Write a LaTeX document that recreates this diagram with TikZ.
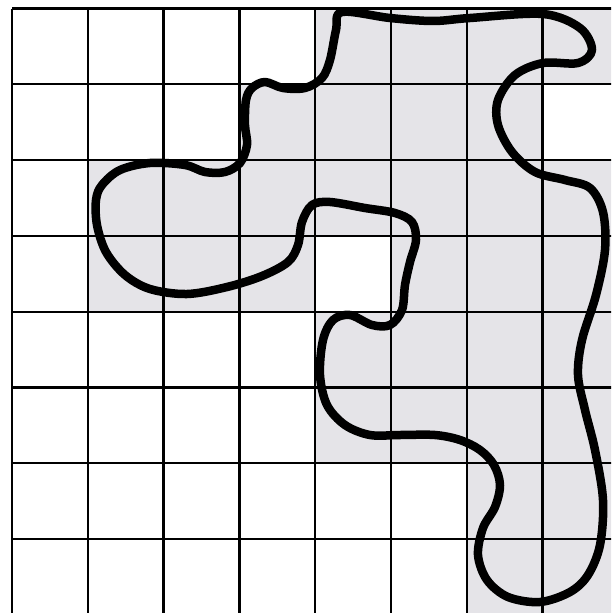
\documentclass[tikz,border=0pt]{standalone}
\definecolor{cellgray}{RGB}{229,228,232}
\tikzset{
  gridline/.style={line width=2.3pt, black},
  blob/.style={line width=8.5pt, black, line join=round},
  shade/.style={fill=cellgray}
}
\begin{document}
\begin{tikzpicture}[x=1pt,y=-1pt]
\useasboundingbox (0,0) rectangle (611,613);
\fill[white] (0,0) rectangle (611,613);
\begin{scope}
\clip (0,0) rectangle (611,613);
\def\cs{75.8}
\def\ox{12}
\def\oy{8.5}
% shaded cells: row/col
\foreach \r/\c in {0/4,0/5,0/6,0/7,
                   1/3,1/4,1/5,1/6,
                   2/1,2/2,2/3,2/4,2/5,2/6,2/7,
                   3/1,3/2,3/3,3/5,3/6,3/7,
                   4/4,4/5,4/6,4/7,
                   5/4,5/5,5/6,5/7,
                   6/6,6/7,
                   7/6,7/7}
  \path[shade] ({\ox+\c*\cs},{\oy+\r*\cs}) rectangle ({\ox+(\c+1)*\cs},{\oy+(\r+1)*\cs});
% grid
\foreach \k in {0,...,8} {
  \draw[gridline] ({\ox+\k*\cs},\oy) -- ({\ox+\k*\cs},{\oy+8*\cs});
  \draw[gridline] (\ox,{\oy+\k*\cs}) -- ({\ox+8*\cs},{\oy+\k*\cs});
}
% curve
\draw[blob] plot[smooth cycle, tension=0.55] coordinates {
(342,12) (390,18) (433,21) (470,18) (543,14) (580,28) (592,50) (578,63)
(543,63) (515,75) (498,100) (498,125) (512,152) (535,172) (565,180)
(590,188) (603,212) (605,250) (596,295) (582,340) (578,375) (585,410)
(595,450) (603,500) (600,545) (588,575) (570,592) (540,602) (508,597)
(487,580) (478,555) (483,528) (495,507) (500,485) (494,465) (480,450)
(460,440) (435,435) (400,435) (370,435) (345,425) (327,405) (320,375)
(323,340) (333,320) (350,315) (372,325) (390,325) (402,310) (405,285)
(410,262) (416,240) (412,222) (395,213) (365,208) (330,202) (312,205)
(302,222) (298,245) (288,262) (262,276) (227,287) (187,294) (150,289)
(125,275) (106,252) (97,225) (96,200) (102,185) (120,170) (150,163)
(185,165) (205,172) (225,172) (240,163) (247,145) (245,125) (246,100)
(252,88) (265,82) (283,88) (305,88) (322,78) (330,60) (336,30)};
\end{scope}
\end{tikzpicture}
\end{document}
